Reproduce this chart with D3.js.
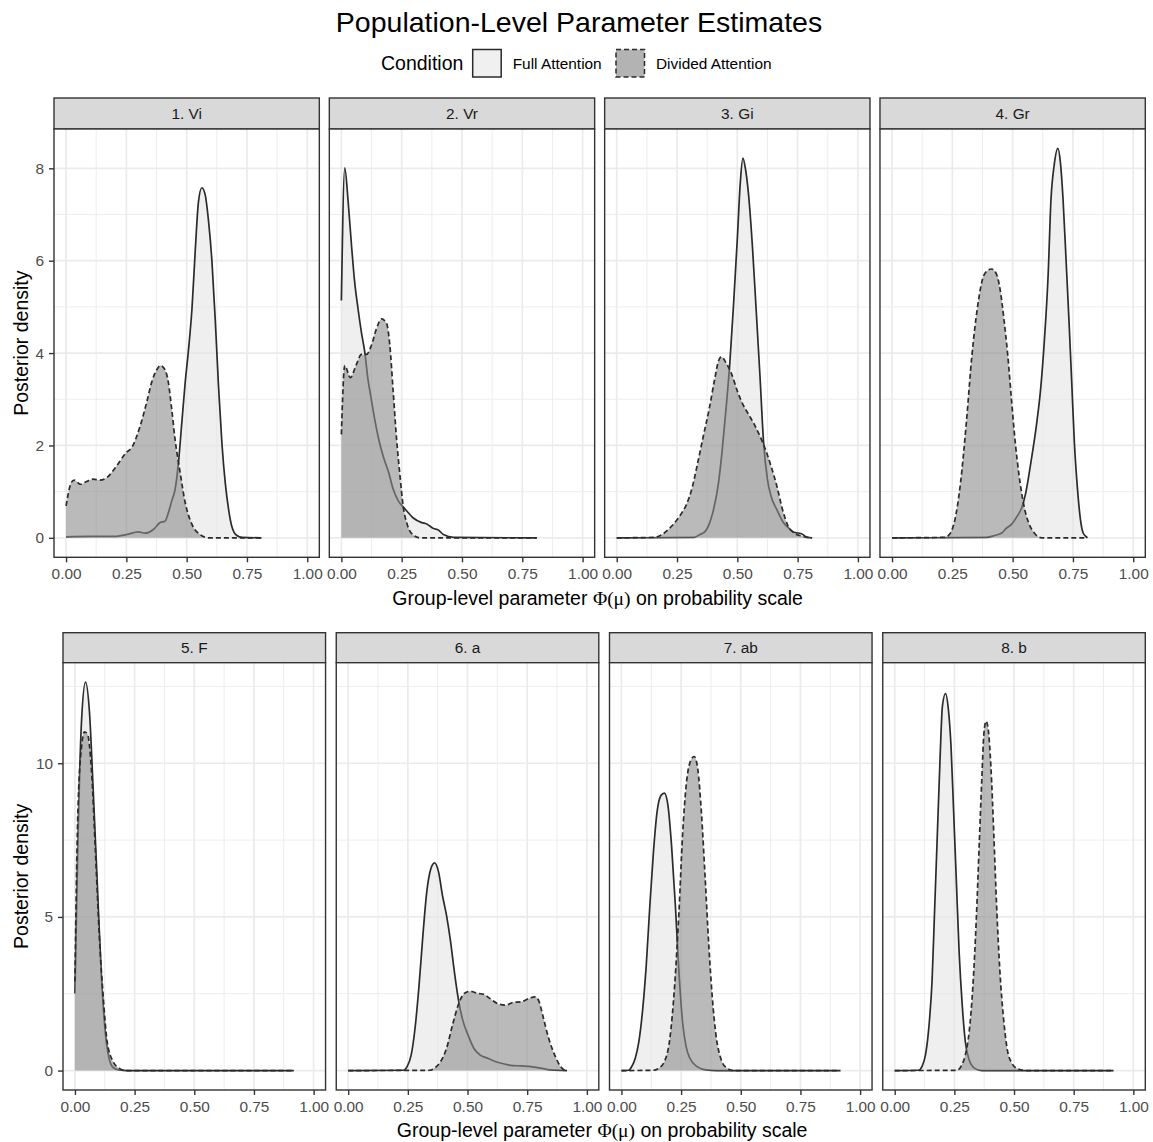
<!DOCTYPE html>
<html>
<head>
<meta charset="utf-8">
<script src="https://cdn.jsdelivr.net/npm/d3@7"></script>
<style>
  body { margin: 0; background: #fff; }
  svg { display: block; font-family: "Liberation Sans", Arial, Helvetica, sans-serif; }
</style>
</head>
<body>
<svg id="chart" width="1153" height="1142"></svg>
<script>
// ---- data: [x, density] pairs ----
const panelNames = ["1. Vi", "2. Vr", "3. Gi", "4. Gr", "5. F", "6. a", "7. ab", "8. b"];
const conditions = ["Full Attention", "Divided Attention"];
const xTicks = [0, 0.25, 0.5, 0.75, 1];
const xMinor = [0.125, 0.375, 0.625, 0.875];
const yTicksTop = [0, 2, 4, 6, 8];
const yMinorTop = [1, 3, 5, 7];
const yTicksBottom = [0, 5, 10];
const yMinorBottom = [2.5, 7.5, 12.5];

const viFull = [[0,0.02],[0.1,0.03],[0.2,0.03],[0.25,0.07],[0.3,0.13],[0.327,0.1],[0.362,0.18],[0.39,0.33],
  [0.41,0.36],[0.424,0.54],[0.438,0.8],[0.452,1.05],[0.466,1.63],[0.48,2.5],[0.494,3.37],[0.508,4.09],
  [0.522,4.96],[0.536,6.26],[0.549,7.28],[0.563,7.58],[0.577,7.42],[0.591,6.84],[0.605,5.97],[0.619,4.67],
  [0.632,3.29],[0.646,2.06],[0.66,1.19],[0.674,0.61],[0.687,0.25],[0.708,0.05],[0.73,0.01],[0.81,0]];
const viDiv = [[0,0.69],[0.022,1.2],[0.034,1.25],[0.06,1.16],[0.085,1.22],[0.112,1.27],[0.14,1.25],[0.168,1.3],
  [0.21,1.56],[0.25,1.85],[0.272,1.95],[0.307,2.42],[0.334,2.93],[0.355,3.37],[0.376,3.64],[0.392,3.73],
  [0.41,3.64],[0.424,3.37],[0.438,2.79],[0.452,2.13],[0.473,1.41],[0.494,0.76],[0.522,0.29],[0.556,0.07],
  [0.59,0],[0.81,0]];
const vrFull = [[0,5.14],[0.014,8.01],[0.028,7.28],[0.042,6.33],[0.055,5.54],[0.069,4.96],[0.083,4.45],
  [0.097,4.02],[0.11,3.44],[0.124,3.0],[0.138,2.57],[0.152,2.2],[0.173,1.77],[0.194,1.45],[0.215,1.05],
  [0.236,0.8],[0.263,0.63],[0.298,0.43],[0.333,0.33],[0.354,0.3],[0.382,0.2],[0.402,0.17],[0.423,0.07],
  [0.465,0.01],[0.81,0]];
const vrDiv = [[0,2.24],[0.014,3.73],[0.037,3.47],[0.062,3.75],[0.083,3.97],[0.104,3.97],[0.124,4.16],
  [0.145,4.52],[0.166,4.74],[0.187,4.65],[0.201,4.16],[0.215,3.15],[0.229,2.13],[0.243,1.34],[0.256,0.69],
  [0.273,0.29],[0.298,0.06],[0.326,0],[0.81,0]];
const giFull = [[0,0],[0.32,0.01],[0.344,0.07],[0.367,0.14],[0.383,0.29],[0.398,0.54],[0.422,1.19],
  [0.4375,1.91],[0.453,2.78],[0.469,3.79],[0.484,5.02],[0.5,6.47],[0.5125,7.7],[0.523,8.22],[0.534,7.98],
  [0.547,7.41],[0.5625,6.32],[0.578,4.95],[0.594,3.5],[0.609,2.06],[0.625,1.26],[0.64,0.9],[0.664,0.61],
  [0.6875,0.36],[0.711,0.22],[0.734,0.12],[0.766,0.09],[0.789,0.01],[0.81,0]];
const giDiv = [[0,0],[0.156,0.01],[0.1875,0.07],[0.227,0.25],[0.266,0.51],[0.289,0.72],[0.3125,1.08],
  [0.336,1.63],[0.359,2.2],[0.383,2.78],[0.406,3.43],[0.422,3.83],[0.434,3.92],[0.453,3.79],[0.477,3.54],
  [0.5,3.18],[0.523,2.89],[0.547,2.67],[0.57,2.46],[0.594,2.2],[0.617,1.91],[0.64,1.55],[0.664,1.12],
  [0.6875,0.61],[0.711,0.25],[0.734,0.11],[0.766,0.04],[0.81,0]];
const grFull = [[0,0],[0.39,0.01],[0.425,0.05],[0.456,0.11],[0.472,0.2],[0.495,0.29],[0.519,0.47],
  [0.5375,0.65],[0.553,0.94],[0.569,1.41],[0.584,1.91],[0.6,2.49],[0.616,3.22],[0.631,4.23],[0.647,5.67],
  [0.659,7.33],[0.672,8.06],[0.6875,8.43],[0.698,8.13],[0.709,7.33],[0.722,5.96],[0.734,4.66],[0.745,3.36],
  [0.756,2.06],[0.769,1.05],[0.781,0.4],[0.792,0.11],[0.808,0.01],[0.81,0]];
const grDiv = [[0,0],[0.22,0.01],[0.2375,0.07],[0.261,0.4],[0.284,1.19],[0.308,2.49],[0.331,3.94],
  [0.355,5.02],[0.375,5.6],[0.394,5.78],[0.4125,5.82],[0.433,5.71],[0.448,5.38],[0.464,4.73],[0.48,3.94],
  [0.495,3.0],[0.511,2.06],[0.527,1.34],[0.547,0.69],[0.566,0.33],[0.589,0.11],[0.62,0],[0.81,0]];
const fFull = [[0,2.51],[0.0115,7.1],[0.028,11.43],[0.0445,12.64],[0.061,11.65],[0.077,9.05],[0.094,6.02],
  [0.11,3.21],[0.127,1.26],[0.143,0.4],[0.16,0.1],[0.185,0.02],[0.22,0],[0.917,0]];
const fDiv = [[0,2.9],[0.0115,8.18],[0.028,10.56],[0.04,11.02],[0.053,10.94],[0.069,9.8],[0.086,7.1],
  [0.102,4.4],[0.119,2.35],[0.135,0.94],[0.16,0.29],[0.185,0.08],[0.217,0],[0.917,0]];
const aFull = [[0,0],[0.23,0.01],[0.247,0.13],[0.264,0.51],[0.28,1.37],[0.297,2.78],[0.313,4.4],[0.329,5.8],
  [0.346,6.56],[0.362,6.76],[0.379,6.45],[0.395,5.7],[0.412,5.05],[0.428,4.25],[0.445,3.21],[0.461,2.35],
  [0.478,1.7],[0.502,1.16],[0.527,0.72],[0.552,0.51],[0.585,0.4],[0.626,0.27],[0.675,0.18],[0.725,0.15],
  [0.766,0.13],[0.807,0.08],[0.848,0.02],[0.917,0]];
const aDiv = [[0,0],[0.34,0.01],[0.362,0.08],[0.387,0.29],[0.412,0.72],[0.437,1.48],[0.461,2.13],[0.486,2.51],
  [0.511,2.58],[0.544,2.51],[0.568,2.48],[0.593,2.35],[0.626,2.18],[0.659,2.13],[0.692,2.22],[0.725,2.24],
  [0.758,2.35],[0.783,2.4],[0.8,2.24],[0.815,1.8],[0.84,1.05],[0.865,0.51],[0.89,0.13],[0.914,0],[0.917,0]];
const abFull = [[0,0],[0.03,0.01],[0.043,0.13],[0.058,0.4],[0.073,0.94],[0.088,1.91],[0.104,3.43],
  [0.119,5.37],[0.134,7.1],[0.149,8.4],[0.165,8.94],[0.18,9.03],[0.195,8.62],[0.21,7.32],[0.226,5.37],
  [0.241,3.21],[0.256,1.59],[0.271,0.78],[0.287,0.4],[0.317,0.13],[0.355,0.02],[0.4,0],[0.917,0]];
const abDiv = [[0,0],[0.134,0.01],[0.157,0.08],[0.18,0.29],[0.203,1.05],[0.223,2.78],[0.241,5.16],
  [0.256,7.64],[0.271,9.26],[0.287,10.02],[0.305,10.22],[0.32,9.8],[0.335,8.4],[0.351,6.24],[0.366,4.08],
  [0.381,2.35],[0.396,1.16],[0.416,0.4],[0.439,0.1],[0.47,0],[0.917,0]];
const bFull = [[0,0],[0.1,0.01],[0.114,0.13],[0.129,0.51],[0.144,1.48],[0.157,2.99],[0.167,5.16],
  [0.179,7.75],[0.19,10.13],[0.2,11.86],[0.213,12.27],[0.225,11.75],[0.236,10.56],[0.246,8.62],[0.258,6.24],
  [0.27,3.86],[0.283,2.13],[0.296,0.94],[0.312,0.35],[0.334,0.08],[0.365,0],[0.917,0]];
const bDiv = [[0,0],[0.26,0.01],[0.281,0.18],[0.296,0.51],[0.312,1.26],[0.327,2.67],[0.342,4.94],
  [0.354,7.32],[0.365,9.48],[0.374,10.99],[0.383,11.37],[0.392,11.1],[0.403,9.91],[0.415,7.75],[0.427,5.37],
  [0.441,3.21],[0.456,1.7],[0.471,0.72],[0.491,0.24],[0.517,0.05],[0.547,0],[0.917,0]];

const fullAttention = [viFull, vrFull, giFull, grFull, fFull, aFull, abFull, bFull];
const dividedAttention = [viDiv, vrDiv, giDiv, grDiv, fDiv, aDiv, abDiv, bDiv];

// ---- styling / layout ----
const fills = ["rgba(228,228,228,0.6)", "rgba(140,140,140,0.6)"];
const dashes = [null, "5,3"];
const rows = [
  {panels: [0, 1, 2, 3], stripTop: 98, top: 129, bottom: 557.3, left: 54, right: 1145.3, gap: 10,
   yTicks: yTicksTop, yMinor: yMinorTop},
  {panels: [4, 5, 6, 7], stripTop: 632.7, top: 662.7, bottom: 1090, left: 63, right: 1145.3, gap: 10.7,
   yTicks: yTicksBottom, yMinor: yMinorBottom}
];

const svg = d3.select("#chart");
const txt = "#4d4d4d";

svg.append("text")
  .attr("x", 579).attr("y", 32)
  .attr("text-anchor", "middle")
  .style("font-size", "28.5px").attr("fill", "#000")
  .text("Population-Level Parameter Estimates");

// legend
const legend = svg.append("g");
legend.append("text").attr("x", 381).attr("y", 70)
  .style("font-size", "19.5px").text("Condition");
const keyX = [472.7, 616];
conditions.forEach((c, i) => {
  legend.append("rect")
    .attr("x", keyX[i]).attr("y", 49.5).attr("width", 28.5).attr("height", 27.5)
    .attr("fill", i === 0 ? "#f0f0f0" : "#b3b3b3")
    .attr("stroke", "#2b2b2b").attr("stroke-width", 1.5)
    .attr("stroke-dasharray", dashes[i]);
  legend.append("text").attr("x", keyX[i] + 40).attr("y", 69)
    .style("font-size", "15.4px").attr("fill", "#000").text(c);
});

rows.forEach(row => {
  const n = row.panels.length;
  const w = (row.right - row.left - row.gap * (n - 1)) / n;
  const allY = row.panels.flatMap(p => fullAttention[p].concat(dividedAttention[p]).map(d => d[1]));
  const yMax = d3.max(allY);
  const y = d3.scaleLinear().domain([-0.05 * yMax, yMax * 1.05]).range([row.bottom, row.top]);

  row.panels.forEach((p, j) => {
    const x0 = row.left + j * (w + row.gap);
    const x = d3.scaleLinear().domain([-0.05, 1.05]).range([x0, x0 + w]);
    const g = svg.append("g");

    // strip
    g.append("rect").attr("x", x0).attr("y", row.stripTop)
      .attr("width", w).attr("height", row.top - row.stripTop)
      .attr("fill", "#d9d9d9").attr("stroke", "#333").attr("stroke-width", 1.4);
    g.append("text").attr("x", x0 + w / 2).attr("y", (row.stripTop + row.top) / 2 + 5.5)
      .attr("text-anchor", "middle").style("font-size", "15.4px").attr("fill", "#1a1a1a")
      .text(panelNames[p]);

    // grid
    g.append("rect").attr("x", x0).attr("y", row.top).attr("width", w)
      .attr("height", row.bottom - row.top).attr("fill", "#fff");
    g.selectAll(".xm").data(xMinor).join("line")
      .attr("x1", d => x(d)).attr("x2", d => x(d)).attr("y1", row.top).attr("y2", row.bottom)
      .attr("stroke", "#ebebeb").attr("stroke-width", 0.9);
    g.selectAll(".ym").data(row.yMinor).join("line")
      .attr("y1", d => y(d)).attr("y2", d => y(d)).attr("x1", x0).attr("x2", x0 + w)
      .attr("stroke", "#ebebeb").attr("stroke-width", 0.9);
    g.selectAll(".xg").data(xTicks).join("line")
      .attr("x1", d => x(d)).attr("x2", d => x(d)).attr("y1", row.top).attr("y2", row.bottom)
      .attr("stroke", "#ebebeb").attr("stroke-width", 1.7);
    g.selectAll(".yg").data(row.yTicks).join("line")
      .attr("y1", d => y(d)).attr("y2", d => y(d)).attr("x1", x0).attr("x2", x0 + w)
      .attr("stroke", "#ebebeb").attr("stroke-width", 1.7);

    // densities
    const area = d3.area().curve(d3.curveMonotoneX)
      .x(d => x(d[0])).y0(y(0)).y1(d => y(d[1]));
    const line = d3.line().curve(d3.curveMonotoneX)
      .x(d => x(d[0])).y(d => y(d[1]));
    [fullAttention[p], dividedAttention[p]].forEach((data, k) => {
      g.append("path").datum(data).attr("d", area).attr("fill", fills[k]);
      g.append("path").datum(data).attr("d", line)
        .attr("fill", "none").attr("stroke", "#2b2b2b").attr("stroke-width", 1.7)
        .attr("stroke-dasharray", dashes[k]);
    });

    // border
    g.append("rect").attr("x", x0).attr("y", row.top).attr("width", w)
      .attr("height", row.bottom - row.top).attr("fill", "none")
      .attr("stroke", "#333").attr("stroke-width", 1.4);

    // x axis
    const xa = g.append("g").attr("transform", `translate(0,${row.bottom})`)
      .call(d3.axisBottom(x).tickValues(xTicks).tickFormat(d3.format(".2f")).tickSize(5).tickPadding(5.8));
    xa.select(".domain").remove();
    xa.selectAll("line").attr("stroke", "#333").attr("stroke-width", 1.4);
    xa.selectAll("text").attr("fill", txt).style("font-size", "15.4px")
      .style("font-family", "'Liberation Sans', Arial, sans-serif");

    if (j === 0) {
      const ya = g.append("g").attr("transform", `translate(${x0},0)`)
        .call(d3.axisLeft(y).tickValues(row.yTicks).tickSize(5).tickPadding(5));
      ya.select(".domain").remove();
      ya.selectAll("line").attr("stroke", "#333").attr("stroke-width", 1.4);
      ya.selectAll("text").attr("fill", txt).style("font-size", "15.4px")
        .style("font-family", "'Liberation Sans', Arial, sans-serif");
    }
  });

  // axis titles
  const yMid = (row.top + row.bottom) / 2;
  svg.append("text")
    .attr("transform", `translate(28,${yMid}) rotate(-90)`)
    .attr("text-anchor", "middle").style("font-size", "19.5px").attr("fill", "#000")
    .text("Posterior density");
  const xt = svg.append("text")
    .attr("x", (row.left + row.right) / 2 - 2).attr("y", row.bottom + 47.2)
    .attr("text-anchor", "middle").style("font-size", "19.5px").attr("fill", "#000");
  xt.append("tspan").text("Group-level parameter ");
  xt.append("tspan").style("font-family", "'Liberation Serif', 'DejaVu Serif', serif").text("Φ(μ)");
  xt.append("tspan").text(" on probability scale");
});
</script>
</body>
</html>
